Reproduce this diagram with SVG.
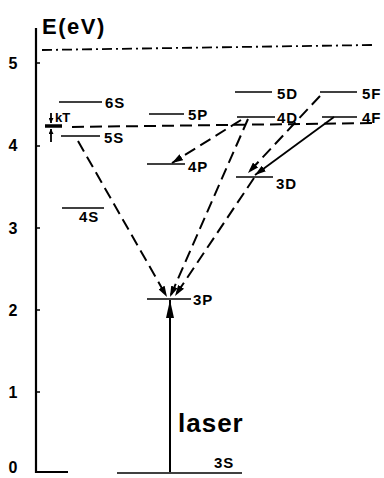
<svg xmlns="http://www.w3.org/2000/svg" width="384" height="478" viewBox="0 0 384 478">
<style>
.t{font-family:"Liberation Sans",Arial,sans-serif;font-weight:bold;fill:#000}
.lab{font-size:15px;letter-spacing:1px}
.tick{font-size:16px}
.lvl{stroke:#000;stroke-width:1.7;fill:none}
.d{stroke:#000;stroke-width:2;fill:none;stroke-dasharray:12 6}
.s{stroke:#000;stroke-width:1.8;fill:none}
</style>
<defs>
<marker id="ah" viewBox="0 0 11 7" refX="11" refY="3.5" markerWidth="11" markerHeight="7" markerUnits="userSpaceOnUse" orient="auto">
<path d="M0,0 L11,3.5 L0,7 Z" fill="#000"/>
</marker>
<marker id="ahb" viewBox="0 0 18 8" refX="18" refY="4" markerWidth="18" markerHeight="8" markerUnits="userSpaceOnUse" orient="auto">
<path d="M0,0 L18,4 L0,8 Z" fill="#000"/>
</marker>
<marker id="ahs" viewBox="0 0 6 6" refX="6" refY="3" markerWidth="6" markerHeight="5" markerUnits="userSpaceOnUse" orient="auto">
<path d="M0,0 L6,3 L0,6 Z" fill="#000"/>
</marker>
</defs>
<rect width="384" height="478" fill="#fff"/>
<g id="axis">
<path d="M36,28 V472 H68" stroke="#000" stroke-width="2.2" fill="none"/>
<path d="M36,63 h4 M36,146 h4 M36,228 h4 M36,310 h4 M36,392 h4" stroke="#000" stroke-width="1.6"/>
<text class="t tick" x="13" y="69" text-anchor="middle">5</text>
<text class="t tick" x="13" y="151" text-anchor="middle">4</text>
<text class="t tick" x="13" y="234" text-anchor="middle">3</text>
<text class="t tick" x="13" y="316" text-anchor="middle">2</text>
<text class="t tick" x="13" y="398" text-anchor="middle">1</text>
<text class="t tick" x="13" y="473" text-anchor="middle">0</text>
<text class="t" x="42" y="34" font-size="22" letter-spacing="1.5">E(eV)</text>
</g>
<g id="ionization">
<path d="M42,50 L372,45" stroke="#000" stroke-width="1.8" stroke-dasharray="10 4 2 4" fill="none"/>
</g>
<g id="kT">
<path d="M72,127 L375,123" class="d"/>
<path d="M45,126 H62" stroke="#000" stroke-width="3.5"/>
<path d="M51,113 V123" class="s" marker-end="url(#ahs)"/>
<path d="M51,142 V129" class="s" marker-end="url(#ahs)"/>
<text class="t" x="55" y="122" font-size="13">kT</text>
</g>
<g id="lvl-6S"><path class="lvl" d="M59,102 H102"/><text class="t lab" x="105" y="108">6S</text></g>
<g id="lvl-5S"><path class="lvl" d="M61,136 H100"/><text class="t lab" x="104" y="143">5S</text></g>
<g id="lvl-4S"><path class="lvl" d="M62,208 H104"/><text class="t lab" x="79" y="222">4S</text></g>
<g id="lvl-5P"><path class="lvl" d="M149,114 H184"/><text class="t lab" x="188" y="120">5P</text></g>
<g id="lvl-4P"><path class="lvl" d="M147,164 H185"/><text class="t lab" x="188" y="172">4P</text></g>
<g id="lvl-3P"><path class="lvl" d="M147,299 H191"/><text class="t lab" x="193" y="305">3P</text></g>
<g id="lvl-5D"><path class="lvl" d="M235,92 H272"/><text class="t lab" x="277" y="99">5D</text></g>
<g id="lvl-4D"><path class="lvl" d="M237,117 H275"/><text class="t lab" x="277" y="123">4D</text></g>
<g id="lvl-3D"><path class="lvl" d="M236,177 H273"/><text class="t lab" x="276" y="189">3D</text></g>
<g id="lvl-5F"><path class="lvl" d="M320,92 H357"/><text class="t lab" x="362" y="99">5F</text></g>
<g id="lvl-4F"><path class="lvl" d="M322,117 H357"/><text class="t lab" x="362" y="123">4F</text></g>
<g id="lvl-3S"><path class="lvl" d="M117,473 H242"/><text class="t lab" x="214" y="468">3S</text></g>
<g id="laser">
<text class="t" x="178" y="432" font-size="26" letter-spacing="1">laser</text>
</g>
<g id="connectors">
<path d="M170,472 V300" stroke="#000" stroke-width="2" marker-end="url(#ahb)"/>
<path class="d" d="M78,141 L167,297" marker-end="url(#ah)"/>
<path class="d" d="M248,119 L170,297" marker-end="url(#ah)"/>
<path class="d" d="M254,178 L175,296" marker-end="url(#ah)"/>
<path class="d" d="M241,120 L172,163" marker-end="url(#ah)"/>
<path class="d" d="M320,96 L248,173" marker-end="url(#ah)"/>
<path class="s" d="M334,117 L255,175" marker-end="url(#ah)"/>
</g>
</svg>
